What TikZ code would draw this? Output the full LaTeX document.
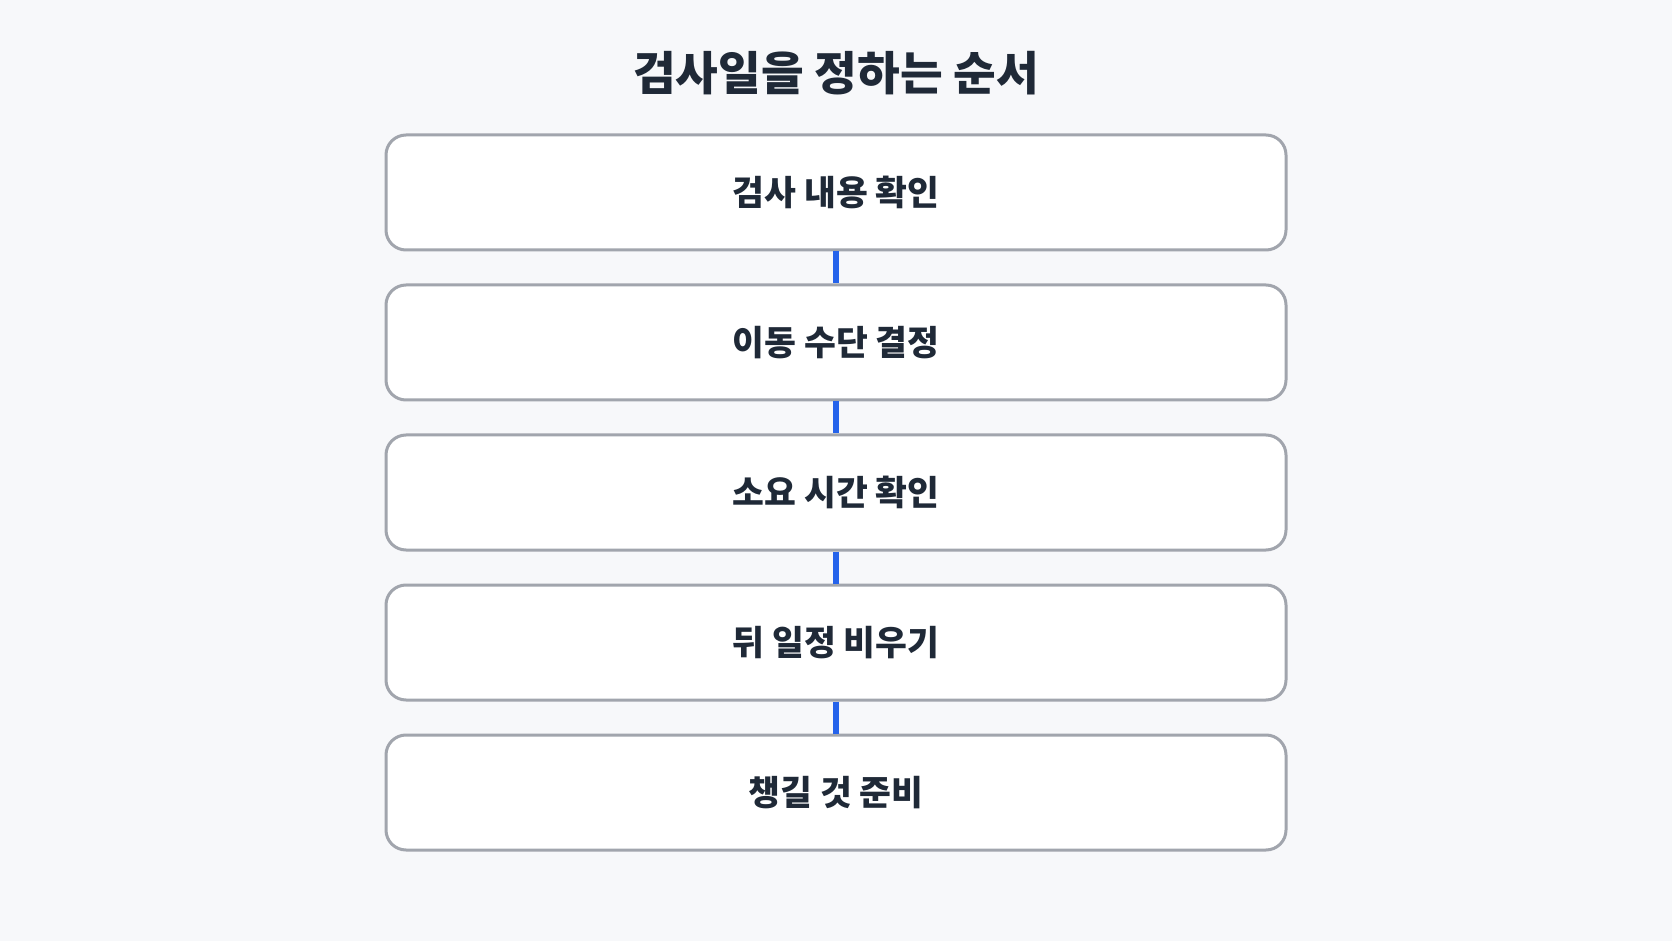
\documentclass[tikz,border=0pt]{standalone}
\usepackage{fontspec}
\newfontfamily\kr{Noto Sans CJK KR}
\usepackage{tikz}

\definecolor{bgcol}{HTML}{F7F8FA}
\definecolor{edgecol}{HTML}{A1A5AD}
\definecolor{inkcol}{HTML}{1F2937}
\definecolor{linkcol}{HTML}{2563EB}

\tikzset{
  stepbox/.style={draw=edgecol, line width=1.5pt, fill=white, rounded corners=10pt,
    minimum width=450pt, minimum height=57.5pt, inner sep=0pt,
    text=inkcol, font=\kr\bfseries\fontsize{17.3}{20}\selectfont},
  link/.style={draw=linkcol, line width=3pt}
}

\begin{document}
\begin{tikzpicture}[x=0.5pt, y=-0.5pt]
    \fill[bgcol] (0, 0) rectangle (1672, 941);
    \node[text=inkcol, font=\kr\bfseries\fontsize{23.2}{28}\selectfont] (t) at (836, 73) {검사일을 정하는 순서};
    \node[stepbox] (a) at (836, 192.5) {검사 내용 확인};
    \node[stepbox] (b) at (836, 342.5) {이동 수단 결정};
    \node[stepbox] (c) at (836, 492.5) {소요 시간 확인};
    \node[stepbox] (d) at (836, 642.5) {뒤 일정 비우기};
    \node[stepbox] (e) at (836, 792.5) {챙길 것 준비};
    \draw [link] (a) to (b);
    \draw [link] (b) to (c);
    \draw [link] (c) to (d);
    \draw [link] (d) to (e);
  \end{tikzpicture}
\end{document}
